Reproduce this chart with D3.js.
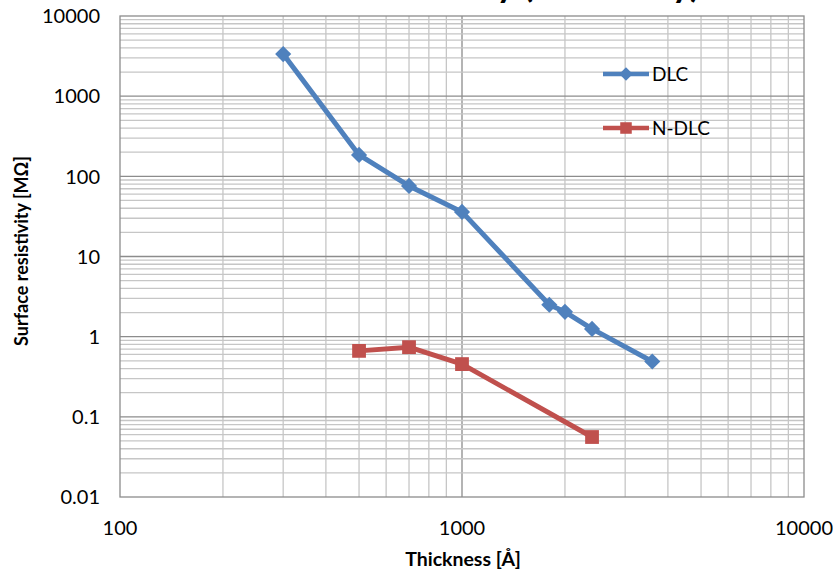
<!DOCTYPE html>
<html>
<head>
  <meta charset="utf-8">
  <title>Surface resistivity vs thickness</title>
  <style>
    body { margin: 0; background: #fff; }
    text { font-family: Lato, "Open Sans", sans-serif; fill: #000; }
  </style>
</head>
<body>
  <div id="graph"></div>
  <script src="https://cdn.jsdelivr.net/npm/d3@7"></script>
  <script>
    // data
    const dlcThickness = [300, 500, 700, 1000, 1800, 2000, 2400, 3600];
    const dlcResistivity = [3350, 185, 76, 36, 2.5, 2.04, 1.25, 0.49];
    const ndlcThickness = [500, 700, 1000, 2400];
    const ndlcResistivity = [0.665, 0.74, 0.455, 0.056];
    const xTickLabels = [100, 1000, 10000];
    const yTickLabels = [0.01, 0.1, 1, 10, 100, 1000, 10000];

    const W = 833, H = 570;
    const plot = { left: 120, right: 804, top: 16, bottom: 497 };

    const svg = d3.select("#graph").append("svg")
      .attr("width", W)
      .attr("height", H);

    // title, mostly cut off at the top edge (as in the original)
    svg.append("text")
      .attr("x", 700)
      .attr("y", -3)
      .attr("text-anchor", "end")
      .style("font-size", "36px")
      .style("font-weight", "bold")
      .text("Surface resistivity (film study)");

    const x = d3.scaleLog().domain([100, 10000]).range([plot.left, plot.right]);
    const y = d3.scaleLog().domain([0.01, 10000]).range([plot.bottom, plot.top]);

    const isMajor = v => Math.abs(Math.log10(v) - Math.round(Math.log10(v))) < 1e-6;

    // grid lines (minor first, then major on top)
    const xGrid = x.ticks().filter(v => v > 100 && v < 10000);
    const yGrid = y.ticks().filter(v => v > 0.01 && v < 10000);

    const grid = svg.append("g");
    grid.selectAll("line.vx")
      .data(xGrid.sort((a, b) => isMajor(a) - isMajor(b)))
      .enter().append("line")
      .attr("x1", d => x(d)).attr("x2", d => x(d))
      .attr("y1", plot.top).attr("y2", plot.bottom)
      .attr("stroke", d => isMajor(d) ? "#8c8c8c" : "#c6c6c6")
      .attr("stroke-width", 1.3);
    grid.selectAll("line.hy")
      .data(yGrid.sort((a, b) => isMajor(a) - isMajor(b)))
      .enter().append("line")
      .attr("x1", plot.left).attr("x2", plot.right)
      .attr("y1", d => y(d)).attr("y2", d => y(d))
      .attr("stroke", d => isMajor(d) ? "#8c8c8c" : "#c6c6c6")
      .attr("stroke-width", 1.3);

    // plot frame
    svg.append("rect")
      .attr("x", plot.left).attr("y", plot.top)
      .attr("width", plot.right - plot.left)
      .attr("height", plot.bottom - plot.top)
      .attr("fill", "none")
      .attr("stroke", "#8c8c8c")
      .attr("stroke-width", 1.3);

    // tick labels
    svg.append("g").selectAll("text")
      .data(yTickLabels)
      .enter().append("text")
      .attr("x", 100)
      .attr("y", d => y(d))
      .attr("dy", "0.36em")
      .attr("text-anchor", "end")
      .style("font-size", "20px")
      .text(d => d3.format("~g")(d));

    svg.append("g").selectAll("text")
      .data(xTickLabels)
      .enter().append("text")
      .attr("x", d => x(d))
      .attr("y", 535)
      .attr("text-anchor", "middle")
      .style("font-size", "20px")
      .text(d => d);

    // axis titles
    svg.append("text")
      .attr("transform", "translate(28,251) rotate(-90)")
      .attr("text-anchor", "middle")
      .style("font-size", "18px")
      .style("font-weight", "bold")
      .text("Surface resistivity [MΩ]");

    svg.append("text")
      .attr("x", 463)
      .attr("y", 566)
      .attr("text-anchor", "middle")
      .style("font-size", "19.5px")
      .style("font-weight", "bold")
      .text("Thickness [Å]");

    const series = [
      { name: "DLC", xs: dlcThickness, ys: dlcResistivity, color: "#4f81bd", symbol: d3.symbolSquare, rotate: 45, size: 130, legendY: 74 },
      { name: "N-DLC", xs: ndlcThickness, ys: ndlcResistivity, color: "#c0504d", symbol: d3.symbolSquare, rotate: 0, size: 190, legendY: 128 }
    ];

    const line = d3.line().x(d => x(d[0])).y(d => y(d[1]));

    series.forEach(s => {
      const pts = d3.zip(s.xs, s.ys);
      svg.append("path")
        .datum(pts)
        .attr("d", line)
        .attr("fill", "none")
        .attr("stroke", s.color)
        .attr("stroke-width", 5)
        .attr("stroke-linejoin", "round");
      svg.append("g").selectAll("path")
        .data(pts)
        .enter().append("path")
        .attr("transform", d => `translate(${x(d[0])},${y(d[1])}) rotate(${s.rotate})`)
        .attr("d", d3.symbol().type(s.symbol).size(s.size))
        .attr("fill", s.color);

      // legend entry
      const lg = svg.append("g");
      lg.append("line")
        .attr("x1", 603).attr("x2", 649)
        .attr("y1", s.legendY).attr("y2", s.legendY)
        .attr("stroke", s.color)
        .attr("stroke-width", 4.5);
      lg.append("path")
        .attr("transform", `translate(626,${s.legendY}) rotate(${s.rotate})`)
        .attr("d", d3.symbol().type(s.symbol).size(s.size * 0.7))
        .attr("fill", s.color);
      lg.append("text")
        .attr("x", 652)
        .attr("y", s.legendY)
        .attr("dy", "0.36em")
        .style("font-size", "19px")
        .text(s.name);
    });
  </script>
</body>
</html>
